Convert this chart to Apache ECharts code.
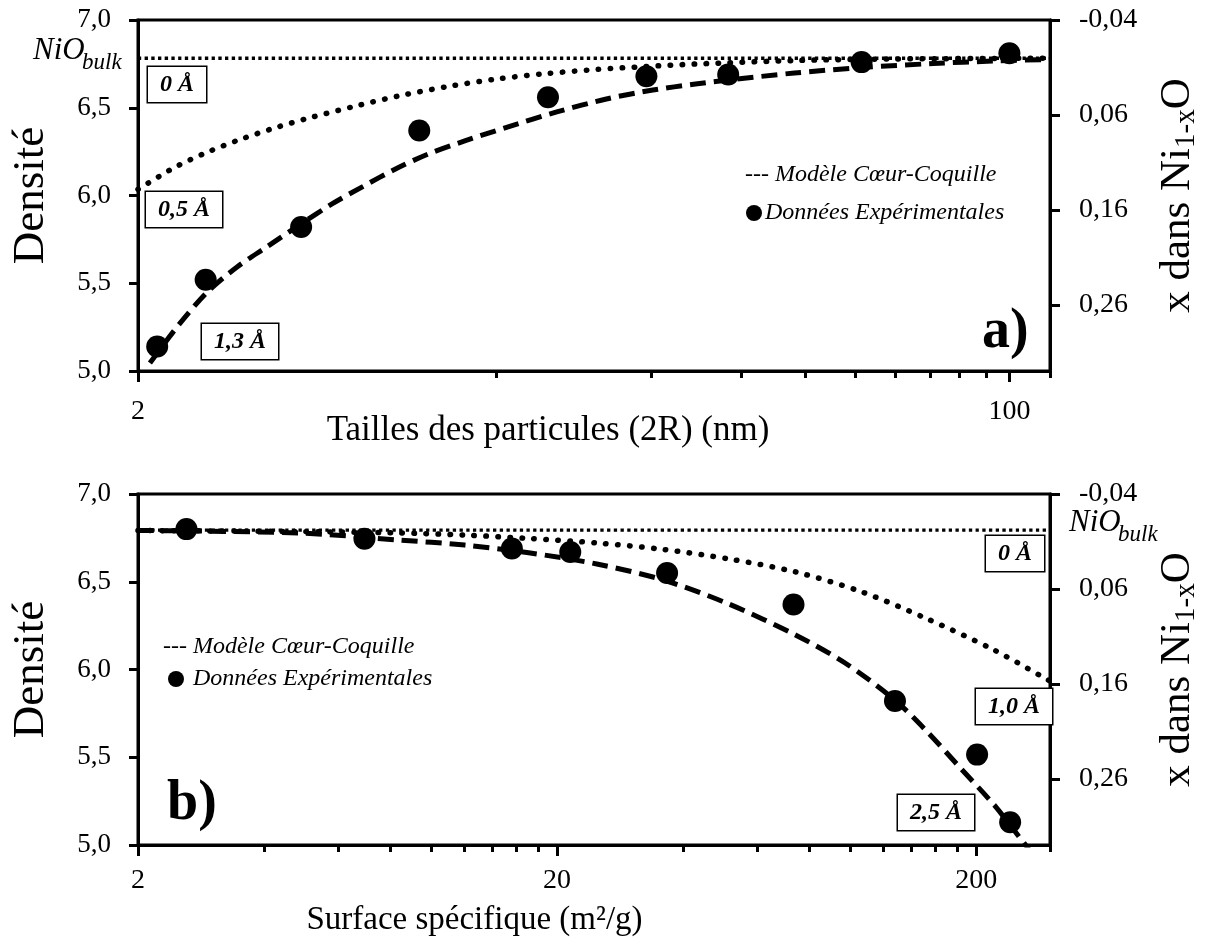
<!DOCTYPE html>
<html><head><meta charset="utf-8">
<script src="https://cdn.jsdelivr.net/npm/echarts@6/dist/echarts.min.js"></script>
<style>html,body{margin:0;padding:0;background:#fff}#c{width:1209px;height:950px}</style>
</head><body><div id="c"></div><script>
const FONT = '"Liberation Serif", "Times New Roman", serif';
const BLACK = '#000';

// ---------- Panel a: particle size 2R (nm) vs density ----------
const sizeA = [2.18, 2.71, 4.16, 7.07, 12.6, 19.6, 28.3, 51.5, 100];
const densA = [5.14, 5.52, 5.82, 6.37, 6.56, 6.68, 6.69, 6.76, 6.81];
// core-shell model, shell 1.3 Å (dashed)
const modelA13x = [2.110, 2.400, 2.731, 3.120, 3.565, 4.128, 4.779, 5.511, 6.355, 7.356, 8.673, 10.50, 13.11, 16.38, 20.18, 24.43, 28.29, 38.10, 51.32, 71.01, 92.69, 118.4, 120];
const modelA13y = [5.046, 5.262, 5.450, 5.593, 5.707, 5.832, 5.952, 6.054, 6.151, 6.236, 6.311, 6.390, 6.476, 6.550, 6.601, 6.635, 6.658, 6.698, 6.729, 6.752, 6.766, 6.775, 6.776];
// core-shell model, shell 0.5 Å (dotted)
const modelA05x = [2.0, 2.347, 2.706, 3.161, 3.694, 4.315, 5.271, 6.440, 8.041, 10.04, 12.54, 15.66, 19.56, 24.43, 38.10, 59.43, 120];
const modelA05y = [6.035, 6.157, 6.242, 6.319, 6.385, 6.442, 6.507, 6.567, 6.621, 6.664, 6.695, 6.718, 6.735, 6.749, 6.769, 6.778, 6.782];
// bulk NiO (0 Å)
const bulkAx = [2, 120];
const bulkAy = [6.782, 6.782];

// ---------- Panel b: specific surface (m²/g) vs density ----------
const surfB = [2.61, 6.94, 15.6, 21.5, 36.6, 73.3, 128, 201, 241];
const densB = [6.80, 6.745, 6.69, 6.67, 6.55, 6.37, 5.82, 5.515, 5.13];
// core-shell model, shell 2.5 Å (dashed)
const modelB25x = [2.0, 4.840, 8.354, 12.04, 17.26, 24.88, 35.86, 51.40, 74.09, 97.32, 127.9, 153.0, 184.3, 220.7, 255.6, 267.0];
const modelB25y = [6.792, 6.778, 6.738, 6.709, 6.664, 6.601, 6.510, 6.373, 6.197, 6.037, 5.826, 5.644, 5.433, 5.228, 5.034, 4.977];
// core-shell model, shell 1.0 Å (dotted)
const modelB10x = [2.0, 4.840, 8.354, 12.04, 17.26, 24.88, 35.86, 51.40, 74.09, 106.8, 153.0, 220.7, 300];
const modelB10y = [6.792, 6.786, 6.778, 6.766, 6.746, 6.721, 6.684, 6.630, 6.556, 6.442, 6.288, 6.111, 5.934];
// bulk NiO (0 Å)
const bulkBx = [2, 300];
const bulkBy = [6.794, 6.794];

// ---------- Ticks ----------
const densTicks = [5.0, 5.5, 6.0, 6.5, 7.0];
const xNiTicks = [-0.04, 0.06, 0.16, 0.26];
const xNiMin = -0.04, xNiMax = 0.3295;
const majorA = [2, 100];
const minorA = [10, 20, 30, 40, 50, 60, 70, 80, 90, 120];
const majorB = [2, 20, 200];
const minorB = [4, 6, 8, 10, 12, 14, 16, 18, 40, 60, 80, 100, 120, 140, 160, 180, 300];

const zip = (xs, ys) => xs.map((x, i) => [x, ys[i]]);
const fmt = (v, d) => Number(v).toFixed(d).replace('.', ',');

function yLeft(gi) {
  return {
    type: 'value', gridIndex: gi, position: 'left', min: 5, max: 7,
    name: 'Densité', nameLocation: 'middle', nameGap: 84, nameMoveOverlap: false,
    nameTextStyle: { fontSize: 45, color: BLACK, fontFamily: FONT },
    axisLine: { show: true, onZero: false, lineStyle: { color: BLACK, width: 3 } },
    axisTick: { show: true, length: 9, customValues: densTicks, lineStyle: { color: BLACK, width: 3 } },
    axisLabel: { customValues: densTicks, fontSize: 27, color: BLACK, fontFamily: FONT, margin: 27, formatter: v => fmt(v, 1) },
    splitLine: { show: false }
  };
}
function yRight(gi) {
  return {
    type: 'value', gridIndex: gi, position: 'right', min: xNiMin, max: xNiMax, inverse: true,
    name: '{n|x dans Ni}{s|1-x}{n|O}', nameLocation: 'middle', nameGap: 104, nameMoveOverlap: false,
    nameTextStyle: { color: BLACK, fontFamily: FONT, fontSize: 43,
      rich: { n: { fontSize: 43, fontFamily: FONT, color: BLACK },
              s: { fontSize: 29, fontFamily: FONT, color: BLACK, padding: [18, 0, 0, 0] } } },
    axisLine: { show: true, onZero: false, lineStyle: { color: BLACK, width: 3 } },
    axisTick: { show: true, length: 10, customValues: xNiTicks, lineStyle: { color: BLACK, width: 3 } },
    axisLabel: { customValues: xNiTicks, fontSize: 28, color: BLACK, fontFamily: FONT, margin: 29, formatter: v => fmt(v, 2) },
    splitLine: { show: false }
  };
}
function xMain(gi, max, major, name, nameSize, gap, padR, lblMargin) {
  return {
    type: 'log', logBase: 10, gridIndex: gi, position: 'bottom', min: 2, max: max,
    name: name, nameLocation: 'middle', nameGap: gap, nameMoveOverlap: false,
    nameTextStyle: { fontSize: nameSize, color: BLACK, fontFamily: FONT, padding: [0, padR, 0, 0] },
    axisLine: { show: true, onZero: false, lineStyle: { color: BLACK, width: 3 } },
    axisTick: { show: true, length: 11, customValues: major, lineStyle: { color: BLACK, width: 3 } },
    axisLabel: { customValues: major, fontSize: 28, color: BLACK, fontFamily: FONT, margin: lblMargin, formatter: v => String(Math.round(v)) },
    splitLine: { show: false }, minorTick: { show: false }, minorSplitLine: { show: false }
  };
}
function xMinor(gi, max, minor) {
  return {
    type: 'log', logBase: 10, gridIndex: gi, position: 'bottom', min: 2, max: max,
    axisLine: { show: false, onZero: false },
    axisTick: { show: true, length: 7, customValues: minor, lineStyle: { color: BLACK, width: 3 } },
    axisLabel: { show: false }, splitLine: { show: false }
  };
}

const dashed = { color: BLACK, width: 5, type: [16, 8], cap: 'butt' };
const dotted = { color: BLACK, width: 5.5, type: [0.5, 11.5], cap: 'round' };
const bulk = { color: BLACK, width: 3.4, type: [3.3, 3.4], cap: 'butt' };
function lineS(xi, yi, data, style) {
  return { type: 'line', xAxisIndex: xi, yAxisIndex: yi, data: data, symbol: 'none',
           smooth: 0.3, lineStyle: style, silent: true, z: 2, clip: true };
}
function scatS(xi, yi, data) {
  return { type: 'scatter', xAxisIndex: xi, yAxisIndex: yi, data: data, symbol: 'circle', symbolSize: 22,
           itemStyle: { color: BLACK, opacity: 1 }, silent: true, z: 3 };
}

function boxText(x, y, text) {
  return { type: 'text', x: x, y: y, z: 10, silent: true,
    style: { text: text, fontFamily: FONT, fontSize: 24, fontStyle: 'italic', fontWeight: 'bold', fill: BLACK,
      backgroundColor: '#fff', borderColor: BLACK, borderWidth: 1.5, padding: [6, 12, 5, 12],
      align: 'left', verticalAlign: 'top', textAlign: 'left', textVerticalAlign: 'top' } };
}
function plainText(x, y, text, size, style, weight, valign) {
  return { type: 'text', x: x, y: y, z: 10, silent: true,
    style: { text: text, fontFamily: FONT, fontSize: size, fontStyle: style || 'normal', fontWeight: weight || 'normal',
      fill: BLACK, align: 'left', verticalAlign: valign || 'middle', textAlign: 'left', textVerticalAlign: valign || 'middle' } };
}

const option = {
  animation: false,
  backgroundColor: '#fff',
  textStyle: { fontFamily: FONT, color: BLACK },
  grid: [
    { left: 138, top: 20, width: 918, height: 351, show: true, borderColor: BLACK, borderWidth: 3, backgroundColor: 'transparent' },
    { left: 138, top: 494, width: 919, height: 351, show: true, borderColor: BLACK, borderWidth: 3, backgroundColor: 'transparent' }
  ],
  xAxis: [
    xMain(0, 120, majorA, 'Tailles des particules (2R) (nm)', 35, 42, 92, 27),
    xMinor(0, 120, minorA),
    xMain(1, 300, majorB, 'Surface spécifique (m²/g)', 33, 59, 239, 22),
    xMinor(1, 300, minorB)
  ],
  yAxis: [yLeft(0), yRight(0), yLeft(1), yRight(1)],
  series: [
    lineS(0, 0, zip(bulkAx, bulkAy), bulk),
    lineS(0, 0, zip(modelA05x, modelA05y), dotted),
    lineS(0, 0, zip(modelA13x, modelA13y), dashed),
    scatS(0, 0, zip(sizeA, densA)),
    lineS(2, 2, zip(bulkBx, bulkBy), bulk),
    lineS(2, 2, zip(modelB10x, modelB10y), dotted),
    lineS(2, 2, zip(modelB25x, modelB25y), dashed),
    scatS(2, 2, zip(surfB, densB))
  ],
  graphic: [
    // panel a annotations
    plainText(33, 66, 'NiO', 31, 'italic', 'normal', 'bottom'),
    plainText(82, 74, 'bulk', 23, 'italic', 'normal', 'bottom'),
    boxText(148, 67, '0 Å'),
    boxText(146, 192, '0,5 Å'),
    boxText(202, 324, '1,3 Å'),
    plainText(745, 175, '--- Modèle Cœur-Coquille', 24, 'italic'),
    { type: 'circle', shape: { cx: 754, cy: 213, r: 8 }, style: { fill: BLACK }, z: 10, silent: true },
    plainText(765, 213, 'Données Expérimentales', 24, 'italic'),
    plainText(982, 333, 'a)', 56, 'normal', 'bold'),
    // panel b annotations
    plainText(1069, 538, 'NiO', 31, 'italic', 'normal', 'bottom'),
    plainText(1118, 546, 'bulk', 23, 'italic', 'normal', 'bottom'),
    boxText(986, 536, '0 Å'),
    boxText(976, 689, '1,0 Å'),
    boxText(898, 795, '2,5 Å'),
    plainText(163, 647, '--- Modèle Cœur-Coquille', 24, 'italic'),
    { type: 'circle', shape: { cx: 176, cy: 679, r: 8 }, style: { fill: BLACK }, z: 10, silent: true },
    plainText(193, 679, 'Données Expérimentales', 24, 'italic'),
    plainText(167, 805, 'b)', 56, 'normal', 'bold')
  ]
};
const chart = echarts.init(document.getElementById('c'));
chart.setOption(option);
</script></body></html>
